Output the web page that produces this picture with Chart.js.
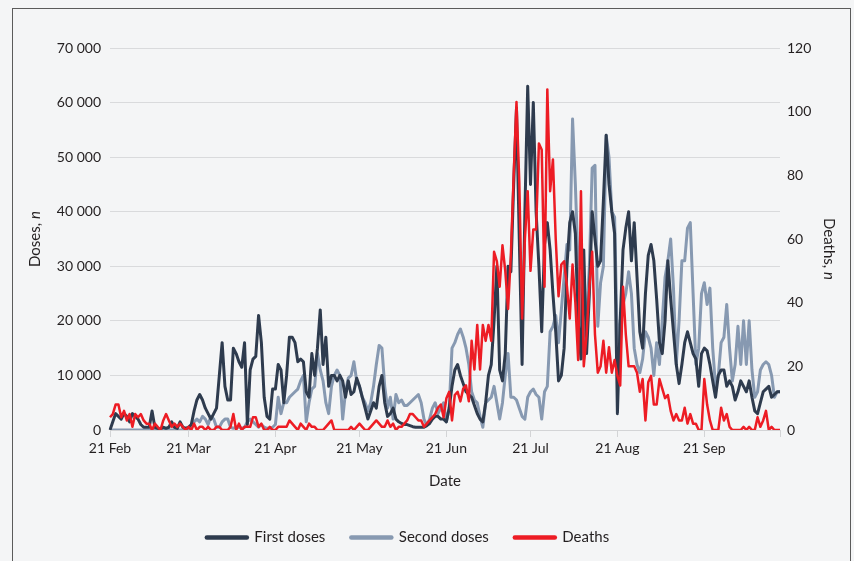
<!DOCTYPE html>
<html>
<head>
<meta charset="utf-8">
<script src="https://cdn.jsdelivr.net/npm/chart.js@4.4.1/dist/chart.umd.min.js"></script>
<style>
  body { margin: 0; background: #f4f5f6; }
  #wrap { width: 854px; height: 561px; position: relative; background: #f4f5f6; }
  #frame { position: absolute; left: 12px; top: 8px; width: 839px; height: 560px; border: 1px solid #5b5b5b; box-sizing: border-box; pointer-events: none; }
</style>
</head>
<body>
<div id="wrap">
  <canvas id="myChart"></canvas>
  <div id="frame"></div>
</div>
<script>
// daily series, 21 Feb 2021 onwards
const monthNames = ['Jan', 'Feb', 'Mar', 'Apr', 'May', 'Jun', 'Jul', 'Aug', 'Sep', 'Oct', 'Nov', 'Dec'];

const firstDoses = [0,1500,3000,2500,2000,3000,2500,1500,3000,2500,
  2000,1000,500,500,500,3500,500,300,200,500,
  300,500,1500,500,300,1500,500,300,500,1000,
  3500,5500,6500,5500,4000,3000,2000,3000,4000,10000,
  16000,8000,5500,5500,15000,14000,12500,11500,16000,1000,
  11000,13000,13500,21000,16000,6000,2500,2000,7500,7500,
  12000,11000,5000,10000,17000,17000,16000,12500,13000,12500,
  7000,6000,14000,10000,15000,22000,12000,17000,8000,10000,
  10000,9000,10000,9000,6000,9000,6500,7000,9500,8000,
  6000,4000,2000,3500,5000,4000,8000,10000,5000,2500,
  3000,4000,2000,1500,1200,1000,1000,800,600,500,
  500,500,500,800,1200,2000,2500,2500,2000,2000,
  1500,4000,8000,11000,12000,10000,8500,7000,6500,6000,
  4500,3000,2000,1500,5000,10000,12000,20000,30000,11000,
  9000,14000,30000,29000,45000,59000,35000,12000,40000,63000,
  45000,60000,40000,30000,18000,34000,38000,33000,25000,18000,
  9000,10000,15000,30000,38000,40000,36000,20000,13000,33000,
  14000,25000,40000,35000,30000,31000,42000,54000,45000,40000,
  36000,3000,20000,33000,37000,40000,31000,38000,28000,18000,
  15000,25000,32000,34000,31000,24000,16000,14000,20000,31000,
  24000,18000,12000,8500,12000,16000,18000,16000,14000,13000,
  8000,14000,15000,14500,12000,9000,6000,10000,11000,11000,
  8000,9000,8000,5500,7000,9000,8000,7000,9000,6000,
  3500,3000,5000,7000,7500,8000,6000,6500,7000,7000];

const secondDoses = [0,0,0,0,0,0,0,0,0,0,
  0,0,0,0,0,0,0,0,0,0,
  0,0,0,0,0,0,0,0,300,800,
  1500,2000,1500,2500,2000,1000,2500,2000,500,500,
  1500,2000,2000,500,300,500,500,300,500,1500,
  2000,1500,1000,500,1000,500,300,300,500,1000,
  6000,3000,5000,5000,6000,6500,7000,7500,9000,10000,
  1500,5000,7500,8000,14000,11000,9000,5000,3000,8000,
  10000,11000,10000,2000,7000,9500,10000,12500,9000,8000,
  6000,5000,3500,5000,8000,12000,15500,15000,8000,4000,
  6000,2000,6500,5000,5500,4500,4500,5000,5500,6000,
  6500,5000,2000,800,2000,4000,5000,3000,4000,5000,
  1500,4000,15000,16000,17500,18500,17000,15000,12000,7000,
  5500,5000,2500,500,5000,5500,6000,8000,5000,2000,
  5000,10000,14000,6000,6000,5500,4000,2500,2000,6000,
  7000,7500,6500,6000,2000,7000,8000,18000,19000,21000,
  16000,22000,28000,34000,33000,57000,45000,30000,22000,13000,
  20000,30000,48000,48500,19000,27000,30000,54000,50000,40000,
  39000,15000,20000,23000,25000,29000,25000,15000,12000,10500,
  13000,18000,17000,15000,10000,16000,12000,20000,28000,31000,
  35000,26000,12000,20000,31000,31000,37000,38000,25000,12000,
  15000,25000,27000,23000,26000,15000,8000,10000,16000,17000,
  23000,15000,9000,12000,19000,12000,20000,12000,20000,11000,
  6000,7000,11000,12000,12500,12000,10000,6000,7000,7000];

const deaths = [4,5,8,8,4,6,3,5,1,5,
  4,5,3,2,2,0,2,1,0,3,
  5,3,1,2,1,2,1,0,1,0,
  2,0,1,1,0,1,0,0,1,1,
  0,0,0,1,5,0,2,0,1,1,
  1,4,4,1,2,0,0,1,0,0,
  1,1,1,1,3,2,1,0,2,1,
  0,2,1,1,0,0,0,1,2,3,
  0,0,0,0,0,0,1,0,1,2,
  1,0,0,1,2,3,2,1,1,3,
  1,2,0,1,1,2,3,5,5,4,
  3,3,1,2,3,4,5,7,8,4,
  10,12,3,11,12,9,13,14,9,28,
  19,33,19,33,28,33,28,56,53,45,
  58,50,38,55,80,103,78,35,60,75,
  50,63,63,90,88,45,107,75,85,60,
  42,52,53,45,35,52,40,22,75,20,
  30,45,56,30,18,20,28,18,26,18,
  22,17,14,45,30,20,20,20,18,12,
  16,3,15,17,8,8,16,13,10,11,
  6,3,5,3,3,7,2,5,2,2,
  0,0,16,8,3,0,0,0,7,3,
  5,1,0,0,0,0,1,0,1,0,
  0,4,1,3,6,0,1,0,0,0];

// tick positions (day index) on the date axis; the last one closes the axis
const dateTicks = [0, 28, 59, 89, 120, 150, 181, 212, 239];

const dates = [];
for (let i = 0; i < firstDoses.length; i++) {
  const d = new Date(2021, 1, 21 + i);
  dates.push(d.getDate() + ' ' + monthNames[d.getMonth()]);
}

const textColor = '#231f20';
const fontFamily = 'Lato, "Open Sans", sans-serif';

function spaced(v) {
  return String(v).replace(/\B(?=(\d{3})+(?!\d))/g, ' ');
}

// axis titles with an italic "n"
function drawTitle(ctx, main, tail, x, y, angle) {
  ctx.save();
  ctx.translate(x, y);
  ctx.rotate(angle);
  ctx.fillStyle = textColor;
  ctx.textBaseline = 'middle';
  ctx.font = '15px ' + fontFamily;
  const w1 = ctx.measureText(main).width;
  ctx.font = 'italic 15px ' + fontFamily;
  const w2 = ctx.measureText(tail).width;
  let start = -(w1 + w2) / 2;
  ctx.font = '15px ' + fontFamily;
  ctx.textAlign = 'left';
  ctx.fillText(main, start, 0);
  ctx.font = 'italic 15px ' + fontFamily;
  ctx.fillText(tail, start + w1, 0);
  ctx.restore();
}

const axisTitles = {
  id: 'axisTitles',
  afterDraw(chart) {
    const area = chart.chartArea;
    const mid = (area.top + area.bottom) / 2;
    drawTitle(chart.ctx, 'Doses, ', 'n', 35, mid, -Math.PI / 2);
    drawTitle(chart.ctx, 'Deaths, ', 'n', 829, mid + 10, Math.PI / 2);
  }
};

const ctx = document.getElementById('myChart').getContext('2d');
const myChart = new Chart(ctx, {
  type: 'line',
  data: {
    labels: dates,
    datasets: [{
      label: 'First doses',
      data: firstDoses,
      yAxisID: 'y',
      borderColor: '#2e3b4e',
      backgroundColor: '#2e3b4e',
      borderWidth: 3,
      order: 1
    }, {
      label: 'Second doses',
      data: secondDoses,
      yAxisID: 'y',
      borderColor: '#8799b1',
      backgroundColor: '#8799b1',
      borderWidth: 3,
      order: 2
    }, {
      label: 'Deaths',
      data: deaths,
      yAxisID: 'y1',
      borderColor: '#ed1c24',
      backgroundColor: '#ed1c24',
      borderWidth: 2.5,
      order: 0
    }]
  },
  options: {
    responsive: true,
    maintainAspectRatio: false,
    animation: false,
    elements: {
      point: { radius: 0 },
      line: { tension: 0, borderJoinStyle: 'round' }
    },
    layout: {
      padding: { left: 0, right: 38, top: 48, bottom: 6 }
    },
    scales: {
      x: {
        type: 'category',
        grid: { drawOnChartArea: false, drawTicks: true, tickLength: 7, color: '#d3d4d6' },
        border: { display: true, color: '#d3d4d6' },
        ticks: {
          autoSkip: false,
          maxRotation: 0,
          padding: 3,
          color: textColor,
          font: { family: fontFamily, size: 14 },
          callback: function (value) {
            const lab = dates[value];
            return lab.startsWith('21 ') ? lab : '';
          }
        },
        afterBuildTicks: scale => {
          scale.ticks = dateTicks.map(v => ({ value: v }));
        },
        title: {
          display: true,
          text: 'Date',
          color: textColor,
          font: { family: fontFamily, size: 15 },
          padding: { top: 0, bottom: 14 }
        },
        afterFit: scale => { scale.height = 74; }
      },
      y: {
        position: 'left',
        min: 0,
        max: 70000,
        grid: { color: '#d9dadc', drawTicks: false },
        border: { display: false },
        ticks: {
          stepSize: 10000,
          padding: 9,
          color: textColor,
          font: { family: fontFamily, size: 14 },
          callback: v => spaced(v)
        },
        afterFit: scale => { scale.width = 110; }
      },
      y1: {
        position: 'right',
        min: 0,
        max: 120,
        grid: { drawOnChartArea: false, drawTicks: false },
        border: { display: false },
        ticks: {
          stepSize: 20,
          padding: 7,
          color: textColor,
          font: { family: fontFamily, size: 14 }
        },
        afterFit: scale => { scale.width = 36; }
      }
    },
    plugins: {
      legend: {
        position: 'bottom',
        labels: {
          usePointStyle: true,
          pointStyle: 'line',
          pointStyleWidth: 40,
          padding: 26,
          color: textColor,
          font: { family: fontFamily, size: 15 },
          sort: (a, b) => a.datasetIndex - b.datasetIndex,
          generateLabels: chart => {
            const items = Chart.defaults.plugins.legend.labels.generateLabels(chart);
            items.forEach(it => { it.lineWidth = 4.5; it.lineCap = 'round'; });
            return items;
          }
        }
      },
      tooltip: { enabled: false }
    }
  },
  plugins: [axisTitles]
});
</script>
</body>
</html>
